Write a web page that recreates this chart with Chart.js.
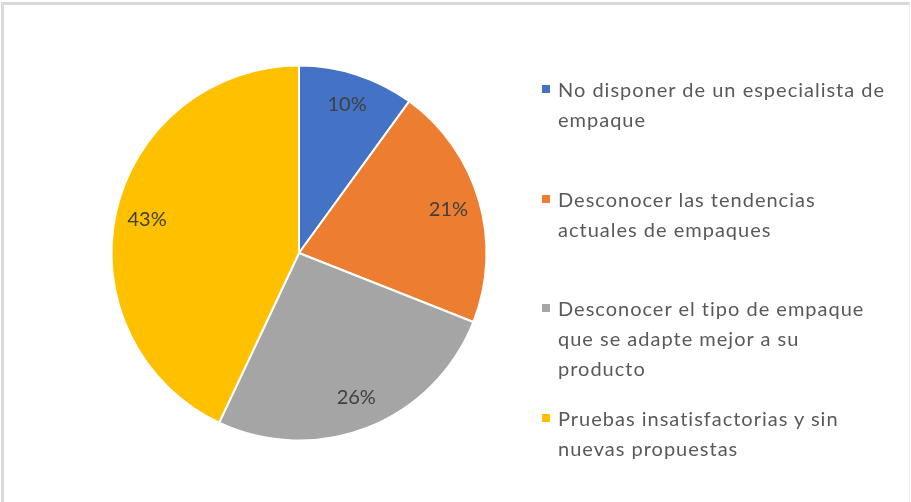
<!DOCTYPE html>
<html>
<head>
<meta charset="utf-8">
<script src="https://cdn.jsdelivr.net/npm/chart.js@4.4.0/dist/chart.umd.min.js"></script>
<style>
  html, body { margin: 0; padding: 0; background: #fff; }
  #frame { position: absolute; left: 1px; top: 2px; width: 909px; height: 510px;
           border-left: 3px solid #d9d9d9; border-top: 3px solid #d9d9d9; border-right: 1px solid #eeeeee; box-sizing: border-box; }
  #wrap { position: absolute; left: 98.5px; top: 52.5px; width: 400px; height: 400px; }
  #legend { position: absolute; left: 0; top: 0; width: 911px; height: 502px; pointer-events: none; }
  .item { position: absolute; left: 542px; }
  .sw { position: absolute; left: 0; top: 11px; width: 8px; height: 8px; }
  .txt { position: absolute; left: 16px; top: 0; white-space: nowrap; font-family: Lato, sans-serif;
         font-size: 20px; line-height: 30px; color: #595959; letter-spacing: 1px; }
</style>
</head>
<body>
<div id="frame"></div>
<div id="wrap"><canvas id="c"></canvas></div>
<div id="legend"></div>
<script>
const categories = [
  ["No disponer de un especialista de", "empaque"],
  ["Desconocer las tendencias", "actuales de empaques"],
  ["Desconocer el tipo de empaque", "que se adapte mejor a su", "producto"],
  ["Pruebas insatisfactorias y sin", "nuevas propuestas"]
];
const values = [10, 21, 26, 43];
const colors = ["#4472C4", "#ED7D31", "#A5A5A5", "#FFC000"];

const labelPlugin = {
  id: 'pieLabels',
  afterDatasetsDraw(chart) {
    const ctx = chart.ctx;
    const meta = chart.getDatasetMeta(0);
    const total = values.reduce((a, b) => a + b, 0);
    ctx.save();
    ctx.font = '20px Lato, sans-serif';
    ctx.fillStyle = '#404040';
    ctx.textAlign = 'center';
    ctx.textBaseline = 'middle';
    meta.data.forEach((arc, i) => {
      const p = arc.getProps(['x', 'y', 'startAngle', 'endAngle', 'outerRadius'], true);
      const a = (p.startAngle + p.endAngle) / 2;
      const r = p.outerRadius * 0.83;
      ctx.fillText(Math.round(values[i] / total * 100) + '%', p.x + Math.cos(a) * r, p.y + Math.sin(a) * r);
    });
    ctx.restore();
  }
};

new Chart(document.getElementById('c'), {
  type: 'pie',
  data: {
    labels: categories,
    datasets: [{
      data: values,
      backgroundColor: colors,
      borderColor: '#ffffff',
      borderWidth: 2,
      radius: 187.5
    }]
  },
  options: {
    responsive: true,
    maintainAspectRatio: false,
    animation: false,
    layout: { padding: 0 },
    plugins: { legend: { display: false }, tooltip: { enabled: false } }
  },
  plugins: [labelPlugin]
});

const legend = document.getElementById('legend');
categories.forEach((lines, i) => {
  const item = document.createElement('div');
  item.className = 'item';
  item.style.top = (74 + i * 109.7) + 'px';
  const sw = document.createElement('div');
  sw.className = 'sw';
  sw.style.background = colors[i];
  const t = document.createElement('div');
  t.className = 'txt';
  t.innerHTML = lines.join('<br>');
  item.appendChild(sw);
  item.appendChild(t);
  legend.appendChild(item);
});
</script>
</body>
</html>
